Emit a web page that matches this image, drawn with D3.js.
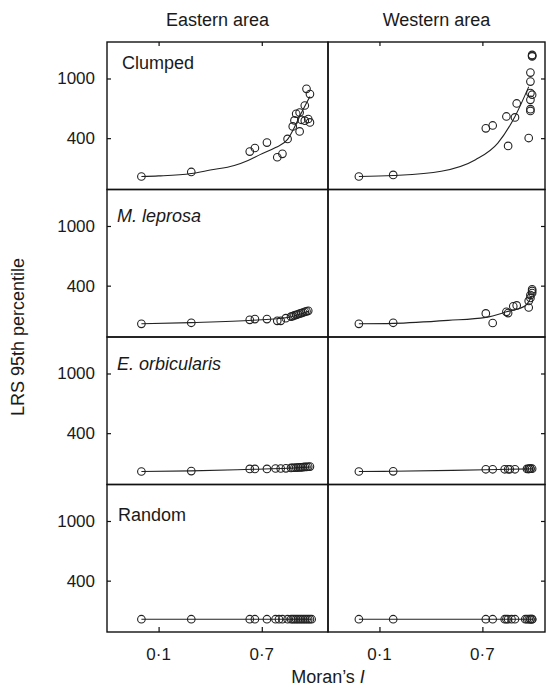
<!DOCTYPE html>
<html lang="en">
<head>
<meta charset="UTF-8"/>
<title>LRS 95th percentile vs Moran's I</title>
<script src="https://d3js.org/d3.v7.min.js"></script>
<style>
  body { margin: 0; background: #fff; }
  text { font-family: "Liberation Sans", Arial, Helvetica, sans-serif; fill: #1a1a1a; }
</style>
</head>
<body>
<script>
// ***Data***
var areas = ["Eastern area", "Western area"];
var patterns = ["Clumped", "M. leprosa", "E. orbicularis", "Random"];
var yTicks = [400, 1000];
var xTicks = [0.1, 0.7];
var xTickLabels = ["0\u00b71", "0\u00b77"];

// points: [Moran's I, LRS 95th percentile]
var eastClumped = [[0.00,157],[0.29,180],[0.63,302],[0.66,327],[0.73,366],[0.79,265],[0.82,287],[0.85,394],
	[0.88,497],[0.89,550],[0.90,613],[0.92,625],[0.92,454],[0.93,556],[0.95,548],[0.95,695],[0.96,877],
	[0.98,817],[0.97,563],[0.98,532]];
var eastClumpedFit = [[0.00,157],[0.10,160],[0.29,172],[0.40,190],[0.54,215],[0.62,245],[0.69,282],
	[0.78,330],[0.85,390],[0.89,490],[0.92,587],[0.98,790]];

var westClumped = [[-0.02,157],[0.18,165],[0.72,480],[0.76,505],[0.84,587],[0.85,342],[0.89,578],[0.90,716],
	[0.97,401],[0.98,1074],[0.98,962],[0.98,828],[0.99,810],[0.98,754],[0.98,658],[0.98,640],
	[0.99,1311],[0.99,1290],[0.99,1300]];
var westClumpedFit = [[-0.02,157],[0.18,162],[0.46,184],[0.66,250],[0.79,363],[0.89,587],[0.97,900]];

var eastLeprosa = [[0.00,158],[0.29,163],[0.63,178],[0.66,182],[0.73,182],[0.79,173],[0.81,173],[0.84,187],
	[0.87,195],[0.88,198],[0.89,202],[0.90,205],[0.91,208],[0.92,212],[0.93,215],[0.94,218],[0.95,222],
	[0.96,225],[0.97,228]];
var eastLeprosaFit = [[0.00,158],[0.29,164],[0.65,176],[0.85,190],[0.92,208],[0.97,226]];

var westLeprosa = [[-0.02,158],[0.18,163],[0.72,213],[0.76,162],[0.84,222],[0.85,215],[0.88,255],[0.90,261],
	[0.97,248],[0.97,290],[0.98,310],[0.98,330],[0.99,345],[0.99,360],[0.99,372]];
var westLeprosaFit = [[-0.02,158],[0.18,160],[0.50,175],[0.72,191],[0.84,222],[0.95,259],[0.99,325]];

var eastOrbic = [[0.00,157],[0.29,159],[0.63,170],[0.66,170],[0.73,170],[0.78,172],[0.81,172],[0.84,173],
	[0.87,175],[0.88,176],[0.89,176],[0.90,177],[0.91,177],[0.92,178],[0.93,178],[0.94,179],[0.95,180],
	[0.96,180],[0.97,181],[0.98,182]];
var eastOrbicFit = [[0.00,157],[0.29,160],[0.65,168],[0.85,173],[0.98,180]];

var westOrbic = [[-0.02,157],[0.18,158],[0.72,168],[0.76,168],[0.83,168],[0.85,168],[0.86,168],[0.89,168],
	[0.96,170],[0.97,170],[0.97,170],[0.98,171],[0.98,171],[0.99,171]];
var westOrbicFit = [[-0.02,157],[0.18,158],[0.72,166],[0.99,170]];

var eastRandom = [[0.00,156],[0.29,156],[0.63,156],[0.66,156],[0.73,156],[0.78,156],[0.80,156],[0.82,156],
	[0.85,156],[0.87,156],[0.88,156],[0.89,156],[0.90,156],[0.91,156],[0.92,156],[0.93,156],[0.94,156],
	[0.95,156],[0.96,156],[0.97,156],[0.98,156],[0.99,156]];
var eastRandomFit = [[0.00,156],[0.99,156]];

var westRandom = [[-0.02,156],[0.18,156],[0.72,156],[0.76,156],[0.83,156],[0.84,156],[0.85,156],[0.87,156],
	[0.89,156],[0.95,156],[0.96,156],[0.97,156],[0.98,156],[0.98,156],[0.99,156],[0.99,156]];
var westRandomFit = [[-0.02,156],[0.99,156]];

// ***Layout***
var w = 546, h = 688;
var colEdges = [107, 328, 545];
var plotTop = 42, rowH = 147.5;
var xDomains = [[-0.2, 1.085], [-0.2, 1.065]];
var yDomain = [100, 1500];
var labelDy = [27, 32, 33, 36];
var labelDx = [15, 10, 10, 11];
var italicRow = [false, true, true, false];

var panels = [
	{row:0, col:0, pts:eastClumped, fit:eastClumpedFit},
	{row:0, col:1, pts:westClumped, fit:westClumpedFit},
	{row:1, col:0, pts:eastLeprosa, fit:eastLeprosaFit},
	{row:1, col:1, pts:westLeprosa, fit:westLeprosaFit},
	{row:2, col:0, pts:eastOrbic, fit:eastOrbicFit},
	{row:2, col:1, pts:westOrbic, fit:westOrbicFit},
	{row:3, col:0, pts:eastRandom, fit:eastRandomFit},
	{row:3, col:1, pts:westRandom, fit:westRandomFit}
];

var svg = d3.select("body").append("svg")
	.attr("width", w)
	.attr("height", h);

var xScales = [0, 1].map(function(c) {
	return d3.scaleLinear().domain(xDomains[c]).range([colEdges[c], colEdges[c + 1]]);
});
var yScales = patterns.map(function(p, r) {
	return d3.scaleSqrt().domain(yDomain).range([plotTop + (r + 1) * rowH, plotTop + r * rowH]);
});

// panels
panels.forEach(function(p) {
	var x = xScales[p.col], y = yScales[p.row];
	var g = svg.append("g");

	var line = d3.line()
		.x(function(d) { return x(d[0]); })
		.y(function(d) { return y(d[1]); })
		.curve(d3.curveMonotoneX);

	g.append("path")
		.datum(p.fit)
		.attr("d", line)
		.attr("fill", "none")
		.attr("stroke", "#222")
		.attr("stroke-width", 1.1);

	g.selectAll("circle")
		.data(p.pts)
		.enter()
		.append("circle")
		.attr("cx", function(d) { return x(d[0]); })
		.attr("cy", function(d) { return y(d[1]); })
		.attr("r", 3.8)
		.attr("fill", "none")
		.attr("stroke", "#222")
		.attr("stroke-width", 1.1);
});

// frames
patterns.forEach(function(p, r) {
	[0, 1].forEach(function(c) {
		svg.append("rect")
			.attr("x", colEdges[c])
			.attr("y", plotTop + r * rowH)
			.attr("width", colEdges[c + 1] - colEdges[c])
			.attr("height", rowH)
			.attr("fill", "none")
			.attr("stroke", "#111")
			.attr("stroke-width", 1.4);
	});

	// y ticks inside on left & right edge
	var y = yScales[r];
	var ga = svg.append("g").attr("transform", "translate(" + colEdges[0] + ",0)")
		.call(d3.axisRight(y).tickValues(yTicks).tickSize(4).tickFormat(""));
	var gb = svg.append("g").attr("transform", "translate(" + colEdges[2] + ",0)")
		.call(d3.axisLeft(y).tickValues(yTicks).tickSize(4).tickFormat(""));
	[ga, gb].forEach(function(g) {
		g.select(".domain").remove();
		g.selectAll("line").attr("stroke", "#111").attr("stroke-width", 1.2);
	});

	svg.selectAll(null)
		.data(yTicks)
		.enter()
		.append("text")
		.attr("x", 95)
		.attr("y", function(d) { return y(d); })
		.attr("dy", "0.35em")
		.attr("text-anchor", "end")
		.style("font-size", "17px")
		.text(function(d) { return d; });

	svg.append("text")
		.attr("x", colEdges[0] + labelDx[r])
		.attr("y", plotTop + r * rowH + labelDy[r])
		.style("font-size", "18px")
		.style("font-style", italicRow[r] ? "italic" : "normal")
		.text(p);
});

// x ticks on top and bottom edges
var plotBottom = plotTop + 4 * rowH;
[0, 1].forEach(function(c) {
	var x = xScales[c];
	var gt = svg.append("g").attr("transform", "translate(0," + plotTop + ")")
		.call(d3.axisBottom(x).tickValues(xTicks).tickSize(4).tickFormat(""));
	var gbt = svg.append("g").attr("transform", "translate(0," + plotBottom + ")")
		.call(d3.axisTop(x).tickValues(xTicks).tickSize(5).tickFormat(""));
	[gt, gbt].forEach(function(g) {
		g.select(".domain").remove();
		g.selectAll("line").attr("stroke", "#111").attr("stroke-width", 1.2);
	});

	svg.selectAll(null)
		.data(xTicks)
		.enter()
		.append("text")
		.attr("x", function(d) { return x(d); })
		.attr("y", 660)
		.attr("text-anchor", "middle")
		.style("font-size", "17px")
		.text(function(d, i) { return xTickLabels[i]; });

	svg.append("text")
		.attr("x", (colEdges[c] + colEdges[c + 1]) / 2)
		.attr("y", 26)
		.attr("text-anchor", "middle")
		.style("font-size", "18px")
		.text(areas[c]);
});

// axis titles
var xt = svg.append("text")
	.attr("x", colEdges[1])
	.attr("y", 683)
	.attr("text-anchor", "middle")
	.style("font-size", "18px");
xt.append("tspan").text("Moran\u2019s ");
xt.append("tspan").style("font-style", "italic").text("I");

svg.append("text")
	.attr("transform", "translate(24," + (plotTop + 2 * rowH) + ") rotate(-90)")
	.attr("text-anchor", "middle")
	.style("font-size", "18px")
	.text("LRS 95th percentile");
</script>
</body>
</html>
